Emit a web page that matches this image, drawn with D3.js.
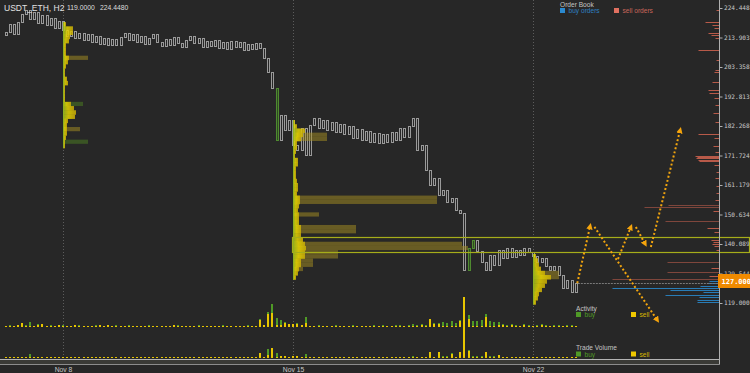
<!DOCTYPE html>
<html lang="en">
<head>
<meta charset="UTF-8">
<title>USDT_ETH, H2</title>
<script src="https://d3js.org/d3.v7.min.js"></script>
<style>
  html, body { margin: 0; padding: 0; background: #272727; }
  svg { display: block; font-family: "Liberation Sans", Arial, sans-serif; }
</style>
</head>
<body>
<script>
const width = 750, height = 373;

// ---- data ----
const startTime = new Date(2018, 10, 6, 6);
const candleHours = 3;
const firstOpen = 214.8;
const closes = [
  215.9, 218.7, 215.2, 219.4, 222.3, 223.7, 220.5, 223.0, 219.1, 221.9,
  218.4, 220.9, 217.3, 219.8, 216.6, 214.4, 216.2, 213.7, 215.5, 213.0,
  215.2, 212.3, 214.4, 211.6, 213.7, 211.2, 213.4, 211.2, 214.1, 215.5,
  213.0, 215.2, 212.3, 214.4, 211.6, 213.7, 215.2, 212.3, 210.9, 213.4,
  211.2, 214.1, 211.9, 210.5, 213.0, 214.4, 211.9, 213.7, 210.5, 212.7,
  210.9, 213.0, 210.2, 212.3, 209.8, 212.7, 210.5, 212.3, 209.4, 211.6,
  209.8, 211.9, 210.2, 206.6, 201.6, 195.9, 177.3, 186.2, 180.8, 184.4,
  175.5, 173.7, 181.6, 171.9, 182.6, 185.1, 181.6, 184.4, 180.8, 183.7,
  180.1, 183.0, 179.4, 182.3, 178.0, 181.2, 177.3, 180.5, 176.6, 179.8,
  176.2, 179.4, 176.6, 180.1, 177.3, 181.6, 178.3, 182.3, 185.1, 173.7,
  175.5, 166.5, 161.2, 163.7, 157.6, 159.4, 155.1, 156.5, 152.2, 151.0,
  130.5, 138.5, 141.5, 137.5, 133.7, 130.8, 136.2, 132.6, 138.0, 135.1,
  138.7, 135.5, 138.0, 136.2, 138.7, 137.2, 135.8, 133.7, 135.1, 132.2,
  130.8, 132.2, 129.0, 124.4, 127.2, 122.9, 126.2
];
const greenCandles = [66, 111, 112];

const activitySell = [
  1, 1, 1, 2, 4, 1, 1, 1, 2, 3,   1, 1, 1, 2, 1, 1, 1, 2, 1, 1,
  1, 1, 1, 2, 1, 2, 1, 1, 1, 1,   1, 1, 1, 1, 1, 1, 1, 1, 1, 1,
  1, 2, 1, 1, 1, 1, 1, 1, 1, 1,   1, 1, 1, 1, 1, 1, 1, 1, 1, 1,
  1, 1, 7, 2, 13, 14, 2, 2, 4, 3, 3, 3, 2, 4, 1, 1, 1, 1, 1, 1,
  1, 1, 1, 1, 1, 1, 1, 1, 1, 1,   1, 1, 1, 1, 1, 1, 1, 1, 1, 1,
  2, 1, 8, 3, 3, 1, 1, 1, 1, 6,   30, 8, 1, 1, 1, 10, 1, 1, 2, 2,
  1, 2, 1, 1, 2, 1, 1, 1, 2, 1,   1, 1, 1, 1, 1, 1, 1
];
const activityBuy = [
  0, 1, 0, 0, 0, 1, 4, 0, 1, 0,   0, 1, 0, 0, 1, 0, 0, 0, 1, 0,
  0, 0, 1, 0, 0, 0, 0, 1, 0, 0,   1, 0, 0, 0, 0, 1, 0, 0, 0, 0,
  0, 0, 1, 0, 0, 0, 0, 1, 0, 0,   0, 0, 0, 1, 0, 0, 0, 0, 0, 1,
  0, 0, 1, 0, 2, 9, 7, 5, 1, 0,   0, 1, 0, 6, 0, 0, 1, 0, 0, 0,
  1, 0, 0, 0, 1, 0, 0, 0, 0, 1,   0, 1, 0, 0, 1, 1, 0, 1, 2, 1,
  1, 1, 0, 1, 1, 4, 3, 5, 3, 1,   0, 4, 5, 5, 6, 3, 5, 4, 3, 1,
  1, 1, 1, 0, 1, 1, 0, 1, 1, 1,   0, 1, 1, 0, 1, 1, 0
];
const tradeSell = [
  1, 1, 1, 1, 1, 1, 1, 1, 1, 1,   1, 1, 1, 1, 1, 1, 1, 1, 1, 1,
  1, 1, 1, 1, 1, 1, 1, 1, 1, 1,   1, 1, 1, 1, 1, 1, 1, 1, 1, 1,
  1, 1, 1, 1, 1, 1, 1, 1, 1, 1,   1, 1, 1, 1, 1, 1, 1, 1, 1, 1,
  1, 1, 5, 1, 3, 10, 1, 2, 2, 1,  2, 2, 1, 1, 1, 1, 1, 1, 1, 1,
  1, 1, 1, 1, 1, 1, 1, 1, 1, 1,   1, 1, 1, 1, 1, 1, 1, 1, 1, 1,
  1, 1, 6, 1, 6, 1, 1, 4, 1, 6,   31, 7, 1, 1, 1, 6, 1, 1, 3, 1,
  1, 1, 1, 1, 1, 1, 1, 1, 1, 1,   1, 1, 1, 1, 1, 1, 1
];
const tradeBuy = [
  0, 0, 0, 0, 0, 0, 3, 0, 0, 0,   0, 0, 0, 0, 0, 0, 0, 0, 0, 0,
  0, 0, 0, 0, 0, 0, 0, 0, 0, 0,   0, 0, 0, 0, 0, 0, 0, 0, 0, 0,
  0, 0, 0, 0, 0, 0, 0, 0, 0, 0,   0, 0, 0, 0, 0, 0, 0, 0, 0, 0,
  0, 0, 0, 0, 6, 0, 4, 0, 0, 0,   0, 0, 0, 3, 0, 0, 0, 0, 0, 0,
  0, 0, 0, 0, 0, 0, 0, 0, 0, 0,   0, 0, 0, 0, 0, 0, 0, 0, 1, 0,
  0, 0, 0, 0, 0, 1, 1, 1, 0, 0,   0, 1, 1, 1, 1, 0, 1, 1, 0, 0,
  0, 0, 0, 0, 0, 0, 0, 0, 0, 0,   0, 0, 0, 0, 0, 0, 0
];

const priceTicks = [224.448, 213.903, 203.358, 192.813, 182.268, 171.724, 161.179, 150.634, 140.089, 129.544, 119.000];
const priceMin = 119.0, priceMax = 224.448;
const lastPrice = 127.0;
const dayTicks = [new Date(2018, 10, 8), new Date(2018, 10, 15), new Date(2018, 10, 22)];

// volume profiles: top price of first row, then per-row volume (bin = 1.5)
const profileBin = 1.5;
const profileAnchors = dayTicks;
const profileTops = [219.4, 184.4, 136.5];
const profile1Core = [3, 10, 10, 7, 6, 3, 3, 3, 6, 5, 3, 2, 2, 4, 5, 2, 2, 2, 2, 8, 11, 13, 12, 5, 4, 4, 4, 3, 2, 2];
const profile1Sell = [0, 0, 0, 0, 0, 0, 0, 0, 25, 0, 0, 0, 0, 0, 0, 0, 0, 0, 0, 0, 0, 0, 0, 0, 0, 17, 0, 0, 0, 0];
const profile1Buy  = [0, 0, 0, 0, 0, 0, 0, 0, 0, 0, 0, 0, 0, 0, 0, 0, 0, 0, 0, 20, 0, 0, 0, 0, 0, 0, 0, 0, 25, 0];
const profile2Core = [2, 4, 12, 10, 8, 4, 4, 3, 2, 5, 5, 3, 3, 3, 4, 5, 5, 4, 7, 7, 6, 5, 6, 6, 6, 8, 8, 8, 10, 12, 13, 12, 12, 8, 8, 6, 5, 3];
const profile2Sell = [0, 0, 0, 34, 34, 0, 0, 0, 0, 0, 0, 0, 0, 0, 0, 0, 0, 0, 144, 144, 0, 0, 26, 0, 0, 63, 63, 0, 0, 169, 175, 45, 45, 20, 20, 10, 0, 0];
const profile2Buy  = [0, 0, 0, 0, 0, 0, 0, 0, 0, 0, 0, 0, 0, 0, 0, 0, 0, 0, 0, 0, 0, 0, 0, 0, 6, 0, 0, 0, 0, 0, 0, 0, 0, 0, 0, 0, 0, 0];
const profile3Core = [3, 5, 6, 8, 12, 18, 14, 12, 9, 6, 5, 3];
const profile3Sell = [0, 0, 0, 0, 26, 26, 0, 0, 0, 0, 0, 0];
const profile3Buy  = [0, 0, 0, 0, 0, 0, 0, 0, 0, 0, 0, 0];

// order book
const sellOrderPrices = [223.7, 219.4, 218.4, 217.3, 215.5, 214.8, 213.7, 209.4, 205.9, 202.3, 201.6, 198.0, 195.1, 194.1, 192.3, 189.8, 186.9, 183.7, 179.4, 178.0, 175.1, 172.9, 171.5, 171.2, 170.8, 170.1, 169.8, 168.3, 165.8, 163.7, 160.8, 158.3, 155.8, 154.0, 153.3, 151.9, 148.3, 145.8, 144.4, 141.5, 140.8, 140.1, 139.4, 137.9, 133.7, 131.5, 130.1, 128.7, 127.6];
const sellOrderSizes  = [15, 70, 35, 25, 55, 40, 20, 105, 15, 20, 25, 35, 55, 50, 25, 20, 30, 20, 105, 25, 30, 20, 120, 110, 115, 105, 100, 25, 15, 20, 15, 15, 20, 255, 375, 30, 270, 60, 25, 40, 30, 35, 25, 15, 260, 40, 260, 50, 535];
const buyOrderPrices = [126.9, 126.2, 125.1, 124.4, 123.6, 122.9, 121.9, 121.2, 120.1, 119.4];
const buyOrderSizes  = [50, 60, 95, 535, 245, 80, 270, 100, 110, 110];

// drawn annotations
const zoneStart = new Date(2018, 10, 14, 23);
const zonePrices = [142.6, 137.2];
const arrowFromTimes  = ['2018-11-23T07:00', '2018-11-23T19:00', '2018-11-24T11:30', '2018-11-25T00:00', '2018-11-25T10:30'];
const arrowFromPrices = [126.1, 146.2, 134.7, 146.2, 139.0];
const arrowToTimes    = ['2018-11-23T16:00', '2018-11-25T15:00', '2018-11-24T20:30', '2018-11-25T06:30', '2018-11-26T07:00'];
const arrowToPrices   = [146.5, 112.9, 146.2, 140.1, 180.8];

// ---- scales ----
const x = d3.scaleTime().domain(dayTicks).range([63, 293, 533]);
const y = d3.scaleLinear().domain([priceMin, priceMax]).range([303, 8]);
const volX = d3.scaleLinear().domain([0, 100]).range([0, 100]);
const obX = d3.scaleLinear().domain([0, 1000]).range([0, 200]);
const actY = d3.scaleLinear().domain([0, 30]).range([327, 297]);
const tvY = d3.scaleLinear().domain([0, 30]).range([358, 328]);
const candleTime = i => d3.timeHour.offset(startTime, i * candleHours);
const axisX = 719.5;

const svg = d3.select('body').append('svg')
    .attr('width', width)
    .attr('height', height);

svg.append('rect').attr('width', width).attr('height', height).attr('fill', '#272727');

const defs = svg.append('defs');
const grad = defs.append('linearGradient').attr('id', 'core');
grad.append('stop').attr('offset', '0%').attr('stop-color', '#9cbc1c');
grad.append('stop').attr('offset', '45%').attr('stop-color', '#e6d300');
grad.append('stop').attr('offset', '100%').attr('stop-color', '#c9ad06');
defs.append('marker')
    .attr('id', 'head')
    .attr('viewBox', '0 0 10 10')
    .attr('refX', 5).attr('refY', 5)
    .attr('markerWidth', 3.2).attr('markerHeight', 3.2)
    .attr('orient', 'auto')
  .append('path')
    .attr('d', 'M0,0L10,5L0,10Z')
    .attr('fill', '#f5a40c');

// day grid lines
svg.selectAll('.day').data(dayTicks).join('line')
    .attr('x1', d => Math.round(x(d)) + .5).attr('x2', d => Math.round(x(d)) + .5)
    .attr('y1', 0).attr('y2', 365)
    .attr('stroke', '#5c5c5c')
    .attr('stroke-dasharray', '1,2');

// candles (hollow)
const candles = closes.map((c, i) => ({
  t: candleTime(i),
  open: i ? closes[i - 1] : firstOpen,
  close: c,
  hot: greenCandles.includes(i)
}));

svg.append('g').selectAll('rect').data(candles).join('rect')
    .attr('x', d => Math.round(x(d.t) - 1) + .5)
    .attr('width', 2)
    .attr('y', d => Math.round(y(Math.max(d.open, d.close))) + .5)
    .attr('height', d => Math.max(3, Math.round(Math.abs(y(d.open) - y(d.close)))))
    .attr('fill', d => d.hot ? '#2f4a22' : 'none')
    .attr('stroke', d => d.hot ? '#4f8a30' : '#9a9a9a')
    .attr('stroke-width', 1);

// volume profiles
const profiles = [
  {core: profile1Core, sell: profile1Sell, buy: profile1Buy},
  {core: profile2Core, sell: profile2Sell, buy: profile2Buy},
  {core: profile3Core, sell: profile3Sell, buy: profile3Buy}
];
profiles.forEach((p, k) => {
  const ax = Math.round(x(profileAnchors[k]));
  const top = profileTops[k];
  const g = svg.append('g');
  const rows = p.core.map((c, i) => ({
    y0: y(top - i * profileBin),
    y1: y(top - (i + 1) * profileBin),
    core: c, sell: p.sell[i], buy: p.buy[i]
  }));
  g.selectAll('.sell').data(rows.filter(r => r.sell > 0)).join('rect')
      .attr('x', ax).attr('y', d => d.y0)
      .attr('width', d => volX(d.sell)).attr('height', d => d.y1 - d.y0)
      .attr('fill', '#a99122').attr('opacity', .5);
  g.selectAll('.buy').data(rows.filter(r => r.buy > 0)).join('rect')
      .attr('x', ax).attr('y', d => d.y0)
      .attr('width', d => volX(d.buy)).attr('height', d => d.y1 - d.y0)
      .attr('fill', '#4a7a22').attr('opacity', .55);
  g.selectAll('.core').data(rows).join('rect')
      .attr('x', ax).attr('y', d => d.y0)
      .attr('width', d => volX(d.core)).attr('height', d => d.y1 - d.y0 + .3)
      .attr('fill', 'url(#core)').attr('opacity', .85);
  g.append('line')
      .attr('x1', ax + .5).attr('x2', ax + .5)
      .attr('y1', rows[0].y0).attr('y2', rows[rows.length - 1].y1)
      .attr('stroke', '#8fb020').attr('stroke-width', 1);
});

// zone box
svg.append('rect')
    .attr('x', Math.round(x(zoneStart)) + .5)
    .attr('y', Math.round(y(zonePrices[0])) + .5)
    .attr('width', width - 1 - Math.round(x(zoneStart)))
    .attr('height', Math.round(y(zonePrices[1]) - y(zonePrices[0])))
    .attr('fill', 'none')
    .attr('stroke', '#a6ad1a')
    .attr('stroke-width', 1.2);

// order book
const sells = sellOrderPrices.map((p, i) => ({p, s: sellOrderSizes[i]}));
const buys = buyOrderPrices.map((p, i) => ({p, s: buyOrderSizes[i]}));
svg.append('g').selectAll('line').data(sells).join('line')
    .attr('x1', d => axisX - obX(d.s)).attr('x2', axisX)
    .attr('y1', d => Math.round(y(d.p)) + .5).attr('y2', d => Math.round(y(d.p)) + .5)
    .attr('stroke', '#c9604e').attr('stroke-opacity', d => d.s > 200 ? .55 : .9);
svg.append('g').selectAll('line').data(buys).join('line')
    .attr('x1', d => axisX - obX(d.s)).attr('x2', axisX)
    .attr('y1', d => Math.round(y(d.p)) + .5).attr('y2', d => Math.round(y(d.p)) + .5)
    .attr('stroke', '#2a86c6').attr('stroke-opacity', .9);

// last price line
svg.append('line')
    .attr('x1', x(candles[candles.length - 1].t) + 2).attr('x2', axisX)
    .attr('y1', Math.round(y(lastPrice)) + 2.5).attr('y2', Math.round(y(lastPrice)) + 2.5)
    .attr('stroke', '#7a7a7a').attr('stroke-dasharray', '2,1');

// dotted arrows
const arrows = arrowFromTimes.map((t, i) => ({
  x1: x(new Date(t)), y1: y(arrowFromPrices[i]),
  x2: x(new Date(arrowToTimes[i])), y2: y(arrowToPrices[i])
}));
svg.append('g').selectAll('line').data(arrows).join('line')
    .attr('x1', d => d.x1).attr('y1', d => d.y1)
    .attr('x2', d => d.x2).attr('y2', d => d.y2)
    .attr('stroke', '#f2a50e')
    .attr('stroke-width', 2)
    .attr('stroke-dasharray', '2,2.2')
    .attr('marker-end', 'url(#head)');

// activity panel
const act = candles.map((d, i) => ({t: d.t, sell: activitySell[i], buy: activityBuy[i]}));
const actG = svg.append('g');
actG.selectAll('.s').data(act).join('rect')
    .attr('x', d => Math.round(x(d.t)) - 1).attr('width', 2)
    .attr('y', d => actY(d.sell)).attr('height', d => actY(0) - actY(d.sell))
    .attr('fill', '#e8c600');
actG.selectAll('.b').data(act.filter(d => d.buy > 0)).join('rect')
    .attr('x', d => Math.round(x(d.t)) - 1).attr('width', 2)
    .attr('y', d => actY(d.sell + d.buy)).attr('height', d => actY(d.sell) - actY(d.sell + d.buy))
    .attr('fill', '#4f9a26');

// trade volume panel
const tv = candles.map((d, i) => ({t: d.t, sell: tradeSell[i], buy: tradeBuy[i]}));
const tvG = svg.append('g');
tvG.selectAll('.s').data(tv).join('rect')
    .attr('x', d => Math.round(x(d.t)) - 1).attr('width', 2)
    .attr('y', d => tvY(d.sell)).attr('height', d => tvY(0) - tvY(d.sell))
    .attr('fill', '#e8c600');
tvG.selectAll('.b').data(tv.filter(d => d.buy > 0)).join('rect')
    .attr('x', d => Math.round(x(d.t)) - 1).attr('width', 2)
    .attr('y', d => tvY(d.sell + d.buy)).attr('height', d => tvY(d.sell) - tvY(d.sell + d.buy))
    .attr('fill', '#4f9a26');

// frame + navigator strip
svg.append('rect').attr('x', 0).attr('y', 360).attr('width', axisX).attr('height', 4).attr('fill', '#3a3a36');
svg.append('line').attr('x1', 0).attr('x2', axisX).attr('y1', 359.5).attr('y2', 359.5).attr('stroke', '#b4b4b4');
svg.append('line').attr('x1', 0).attr('x2', axisX).attr('y1', 364.5).attr('y2', 364.5).attr('stroke', '#8c8c8c');
svg.append('line').attr('x1', axisX).attr('x2', axisX).attr('y1', 0).attr('y2', 364.5).attr('stroke', '#b0b0b0');

// price axis
const yAxis = svg.append('g')
    .attr('transform', `translate(${axisX},0)`)
    .call(d3.axisRight(y).tickValues(priceTicks).tickSize(3).tickPadding(1.5).tickFormat(d3.format('.3f')));
yAxis.select('.domain').remove();
yAxis.selectAll('line').attr('stroke', '#b0b0b0');
yAxis.selectAll('text')
    .attr('fill', '#c8c8c8')
    .attr('font-family', '"DejaVu Sans Mono", monospace')
    .attr('font-size', 6.1);

// last price tag
svg.append('rect')
    .attr('x', 718).attr('y', Math.round(y(lastPrice)) - 7)
    .attr('width', 32).attr('height', 14)
    .attr('fill', '#ef8a00');
svg.append('text')
    .attr('x', 721.5).attr('y', Math.round(y(lastPrice)) + 3)
    .attr('fill', '#ffffff')
    .attr('font-family', '"DejaVu Sans Mono", monospace')
    .attr('font-size', 7).attr('font-weight', 'bold')
    .text(d3.format('.3f')(lastPrice));

// time axis
const xAxis = svg.append('g')
    .attr('transform', 'translate(0,364)')
    .call(d3.axisBottom(x).tickValues(dayTicks).tickSize(0).tickPadding(0).tickFormat(d3.timeFormat('%b %-d')));
xAxis.select('.domain').remove();
xAxis.selectAll('text')
    .attr('dy', null)
    .attr('y', 8.3)
    .attr('fill', '#c8c8c8')
    .attr('font-size', 6.8)
    .attr('font-family', '"Liberation Sans", Arial, sans-serif');

// titles
svg.append('text').attr('x', 4).attr('y', 10.5)
    .attr('fill', '#e2e2e2').attr('font-size', 8.5).text('USDT_ETH, H2');
svg.append('text').attr('x', 67).attr('y', 10)
    .attr('fill', '#dddddd').attr('font-size', 6.8).text(d3.format('.4f')(priceMin));
svg.append('text').attr('x', 100).attr('y', 10)
    .attr('fill', '#dddddd').attr('font-size', 6.8).text(d3.format('.4f')(priceMax));

// legends
function legend(lx, ly, title, items) {
  svg.append('text').attr('x', lx).attr('y', ly)
      .attr('fill', '#c4c4c4').attr('font-size', 6.6).text(title);
  items.forEach(it => {
    svg.append('rect').attr('x', it.x).attr('y', ly + 1.5).attr('width', 5).attr('height', 5).attr('fill', it.sw);
    svg.append('text').attr('x', it.x + 8.5).attr('y', ly + 6.5)
        .attr('fill', it.color).attr('font-size', 6.6).text(it.label);
  });
}
legend(560, 6.5, 'Order Book', [
  {x: 560, sw: '#2b8ad0', color: '#2f80c0', label: 'buy orders'},
  {x: 614, sw: '#e07060', color: '#c8665a', label: 'sell orders'}
]);
legend(576, 310.5, 'Activity', [
  {x: 576, sw: '#4f9a26', color: '#4f9a26', label: 'buy'},
  {x: 631, sw: '#f0c800', color: '#d8b800', label: 'sell'}
]);
legend(576, 350, 'Trade Volume', [
  {x: 576, sw: '#4f9a26', color: '#4f9a26', label: 'buy'},
  {x: 631, sw: '#f0c800', color: '#d8b800', label: 'sell'}
]);
</script>
</body>
</html>
